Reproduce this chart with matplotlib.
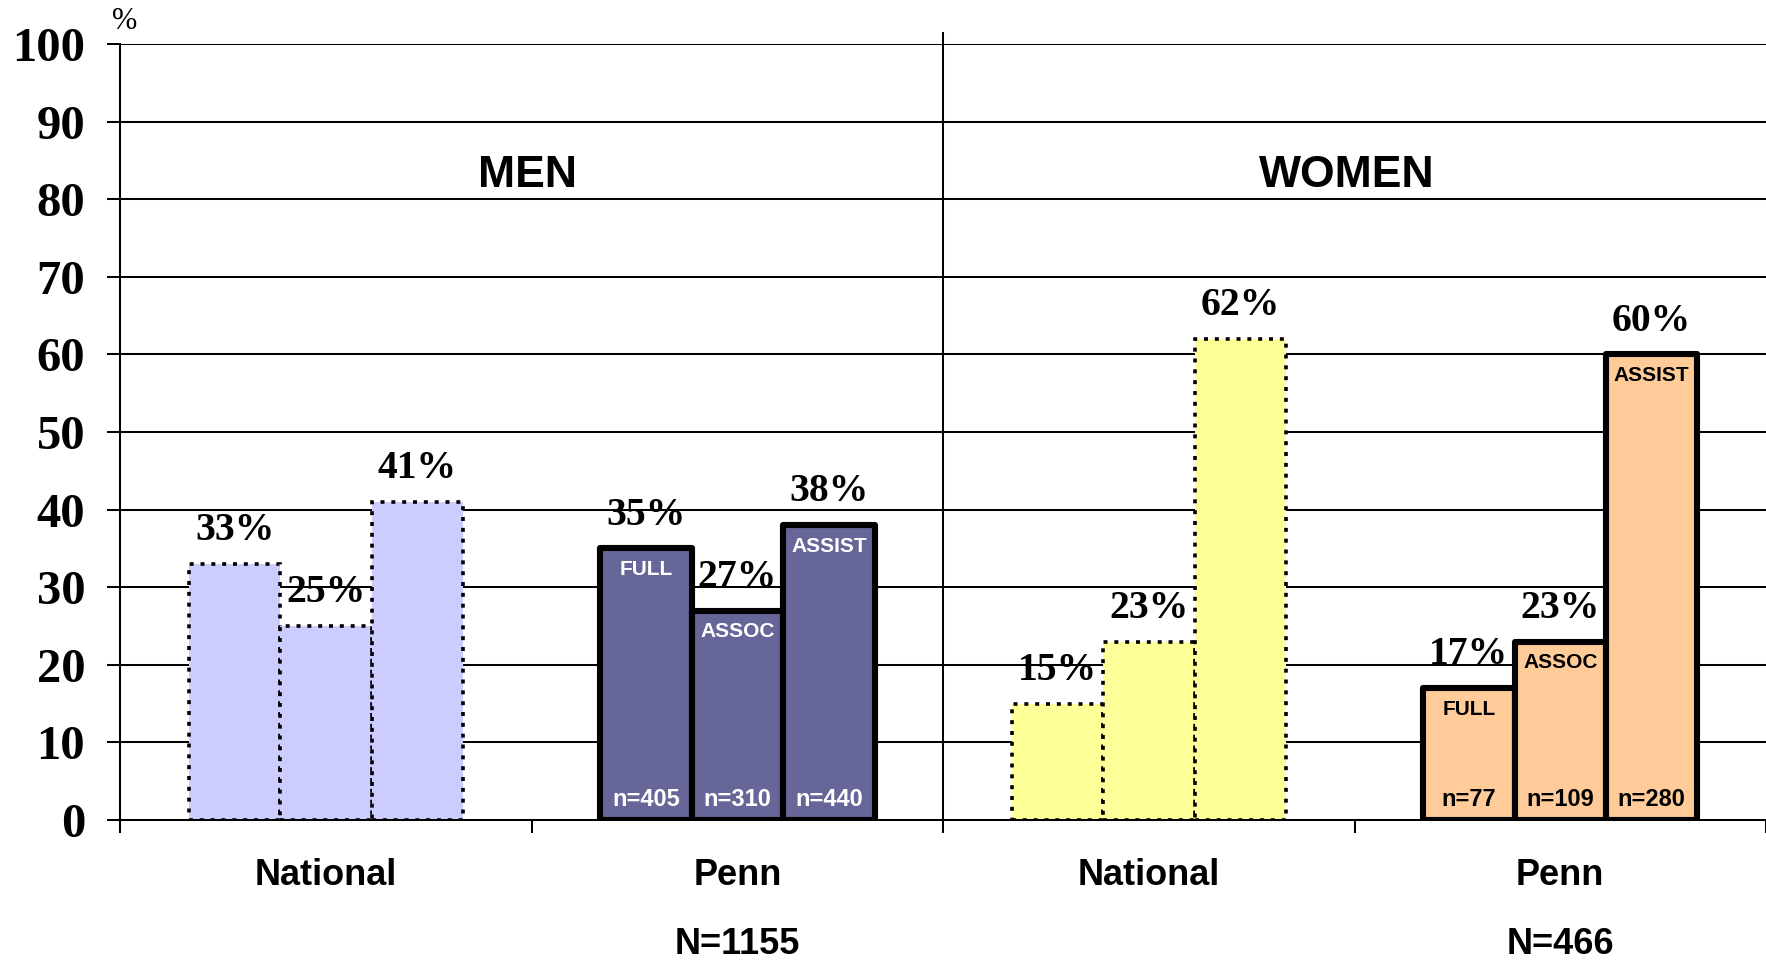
import matplotlib
matplotlib.use("Agg")
import matplotlib.pyplot as plt
import numpy as np

groups = ["National", "Penn", "National", "Penn"]
ranks = ["FULL", "ASSOC", "ASSIST"]
men_national = [33, 25, 41]
men_penn = [35, 27, 38]
women_national = [15, 23, 62]
women_penn = [17, 23, 60]
men_penn_n = [405, 310, 440]
women_penn_n = [77, 109, 280]
sex_titles = ["MEN", "WOMEN"]
totals = ["N=1155", "N=466"]
yticks = list(range(0, 101, 10))

SERIF = "Liberation Serif"
SANS = "Liberation Sans"

fig = plt.figure(figsize=(17.66, 9.6), dpi=100)
ax = fig.add_axes([0.0682, 0.1458, 0.9318, 0.8083])
ax.set_xlim(-0.5, 3.5)
ax.set_ylim(0, 100)

width = 0.2222
offsets = np.array([-1, 0, 1]) * width

series = [
    (0, men_national, "#CCCCFF", "dotted", None, None),
    (1, men_penn, "#666699", "solid", "white", men_penn_n),
    (2, women_national, "#FFFF99", "dotted", None, None),
    (3, women_penn, "#FFCC99", "solid", "black", women_penn_n),
]

for pos, vals, color, style, txtcol, counts in series:
    xs = pos + offsets
    if style == "dotted":
        bars = ax.bar(xs, vals, width, color=color, edgecolor="black",
                      linewidth=2.6, linestyle=(0, (1.1, 1.9)), zorder=2)
    else:
        bars = ax.bar(xs, vals, width, color=color, edgecolor="black",
                      linewidth=4.4, zorder=2)
        for b in bars:
            b.set_joinstyle("round")
    for i, (x, v) in enumerate(zip(xs, vals)):
        ax.text(x, v + 4.3, f"{v}%", ha="center", va="center", fontsize=28.5,
                fontweight="bold", family=SERIF, zorder=4)
        if counts is not None:
            ax.text(x, v - 2.7, ranks[i], ha="center", va="center", fontsize=15,
                    fontweight="bold", family=SANS, color=txtcol, zorder=4)
            ax.text(x, 2.6, f"n={counts[i]}", ha="center", va="center", fontsize=17,
                    fontweight="bold", family=SANS, color=txtcol, zorder=4)

# grid and axes
ax.set_yticks(yticks)
ax.set_yticklabels([str(t) for t in yticks], fontsize=35, fontweight="bold", family=SERIF)
ax.yaxis.grid(True, color="black", linewidth=1.45)
ax.set_axisbelow(True)
ax.tick_params(axis="y", direction="out", length=9.4, width=1.45, pad=16)
ax.set_xticks([-0.5, 0.5, 1.5, 2.5, 3.5])
ax.set_xticklabels([])
ax.tick_params(axis="x", direction="out", length=9, width=1.45)
for side in ["top", "right"]:
    ax.spines[side].set_visible(False)
for side in ["left", "bottom"]:
    ax.spines[side].set_linewidth(1.45)

# divider between men and women
ax.plot([1.5, 1.5], [-1.6, 101.4], color="black", linewidth=1.45, clip_on=False, zorder=1)

for i, name in enumerate(groups):
    ax.text(i, -7.1, name, ha="center", va="center", fontsize=26, fontweight="bold",
            family=SANS, clip_on=False)
for x, t in zip([1, 3], totals):
    ax.text(x, -16.0, t, ha="center", va="center", fontsize=26, fontweight="bold",
            family=SANS, clip_on=False)
for x, t in zip([0.49, 2.48], sex_titles):
    ax.text(x, 83.1, t, ha="center", va="center", fontsize=32, fontweight="bold",
            family=SANS)

ax.text(-0.49, 102.9, "%", ha="center", va="center", fontsize=22, family=SERIF, clip_on=False)

fig.savefig("out.png", dpi=100)
